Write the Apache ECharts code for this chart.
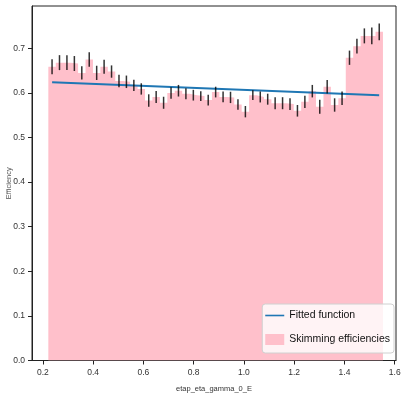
<!DOCTYPE html>
<html>
<head>
<meta charset="utf-8">
<script src="https://cdn.jsdelivr.net/npm/echarts@6/dist/echarts.min.js"></script>
<style>
  html, body { margin: 0; padding: 0; background: #fff; }
  #chart { width: 401px; height: 394px; }
</style>
</head>
<body>
<div id="chart"></div>
<script>
// histogram bins (uniform)
const binStart = 0.222;
const binWidth = 0.02958;

const efficiency = [
  0.659, 0.668, 0.668, 0.666, 0.645, 0.675, 0.645, 0.659, 0.648, 0.627,
  0.625, 0.617, 0.609, 0.583, 0.591, 0.578, 0.600, 0.605, 0.598, 0.595,
  0.593, 0.584, 0.602, 0.591, 0.590, 0.574, 0.558, 0.595, 0.591, 0.586,
  0.577, 0.577, 0.575, 0.560, 0.580, 0.604, 0.569, 0.614, 0.573, 0.588,
  0.679, 0.705, 0.728, 0.728, 0.737
];
const effError = [
  0.0168, 0.0168, 0.0168, 0.0168, 0.015, 0.016, 0.016, 0.0157, 0.0138, 0.014,
  0.014, 0.0127, 0.0127, 0.014, 0.0135, 0.0135, 0.013, 0.013, 0.0123, 0.012,
  0.011, 0.012, 0.012, 0.012, 0.0127, 0.0116, 0.0127, 0.011, 0.0123, 0.0123,
  0.0135, 0.0135, 0.013, 0.013, 0.014, 0.014, 0.0157, 0.015, 0.015, 0.015,
  0.016, 0.0168, 0.0168, 0.0187, 0.0187
];

const fitX = [0.237, 1.538];
const fitY = [0.624, 0.595];

const xTicks = [0.2, 0.4, 0.6, 0.8, 1.0, 1.2, 1.4, 1.6];
const yTicks = [0.0, 0.1, 0.2, 0.3, 0.4, 0.5, 0.6, 0.7];

const FONT = "'Liberation Sans', Arial, sans-serif";

// step outline points: left edge of each bin, plus the closing right edge
const stepData = efficiency.map((v, i) => [binStart + i * binWidth, v]);
stepData.push([binStart + efficiency.length * binWidth, efficiency[efficiency.length - 1]]);

const errData = efficiency.map((v, i) => {
  const c = binStart + (i + 0.5) * binWidth;
  return [c, v - effError[i], v + effError[i]];
});

const chart = echarts.init(document.getElementById('chart'));
chart.setOption({
  animation: false,
  grid: {
    left: 32, right: 5, top: 6, bottom: 33.5,
    outerBoundsMode: 'none',
    containLabel: false,
    show: true, borderColor: '#222', borderWidth: 1, backgroundColor: 'transparent'
  },
  legend: {
    orient: 'vertical',
    right: 7,
    top: 304,
    padding: [6, 4, 8, 3],
    itemWidth: 19,
    itemHeight: 11,
    itemGap: 13,
    backgroundColor: 'rgba(255,255,255,0.8)',
    borderColor: '#d0d0d0',
    borderWidth: 1,
    borderRadius: 3,
    textStyle: { fontFamily: FONT, fontSize: 10.5, color: '#111' },
    data: [
      { name: 'Fitted function', icon: 'path://M0,0 M0,4.7 L19,4.7 L19,6.3 L0,6.3 Z M19,11' },
      { name: 'Skimming efficiencies', icon: 'rect', itemStyle: { color: '#ffc0cb' } }
    ]
  },
  xAxis: {
    type: 'value',
    min: 0.157,
    max: 1.605,
    name: 'etap_eta_gamma_0_E',
    nameLocation: 'middle',
    nameGap: 24,
    nameMoveOverlap: false,
    nameTextStyle: { fontFamily: FONT, fontSize: 7.5, color: '#333' },
    axisLine: { show: true, onZero: false, lineStyle: { color: '#222', width: 1 } },
    axisTick: { show: true, length: 4, customValues: xTicks, lineStyle: { color: '#222' } },
    axisLabel: {
      customValues: xTicks, margin: 8,
      fontFamily: FONT, fontSize: 8.5, color: '#333',
      formatter: v => v.toFixed(1)
    },
    splitLine: { show: false }
  },
  yAxis: {
    type: 'value',
    min: 0,
    max: 0.795,
    name: 'Efficiency',
    nameLocation: 'middle',
    nameGap: 19,
    nameMoveOverlap: false,
    nameTextStyle: { fontFamily: FONT, fontSize: 7.5, color: '#555' },
    axisLine: { show: true, onZero: false, lineStyle: { color: '#222', width: 1 } },
    axisTick: { show: true, length: 4, customValues: yTicks, lineStyle: { color: '#222' } },
    axisLabel: {
      customValues: yTicks, margin: 7,
      fontFamily: FONT, fontSize: 8.5, color: '#333',
      formatter: v => v.toFixed(1)
    },
    splitLine: { show: false }
  },
  series: [
    {
      name: 'Skimming efficiencies',
      type: 'line',
      step: 'end',
      data: stepData,
      symbol: 'none',
      color: '#ffc0cb',
      lineStyle: { width: 0 },
      areaStyle: { color: '#ffc0cb', opacity: 1 },
      z: 1
    },
    {
      name: 'Fitted function',
      type: 'line',
      data: fitX.map((x, i) => [x, fitY[i]]),
      symbol: 'none',
      color: '#1f77b4',
      lineStyle: { width: 2, color: '#1f77b4' },
      z: 3
    },
    {
      name: 'errors',
      type: 'custom',
      data: errData,
      z: 4,
      renderItem: (params, api) => {
        const p1 = api.coord([api.value(0), api.value(1)]);
        const p2 = api.coord([api.value(0), api.value(2)]);
        return {
          type: 'line',
          shape: { x1: p1[0], y1: p1[1], x2: p2[0], y2: p2[1] },
          style: { stroke: 'rgba(0,0,0,0.8)', lineWidth: 1.5 }
        };
      }
    }
  ]
});
</script>
</body>
</html>
